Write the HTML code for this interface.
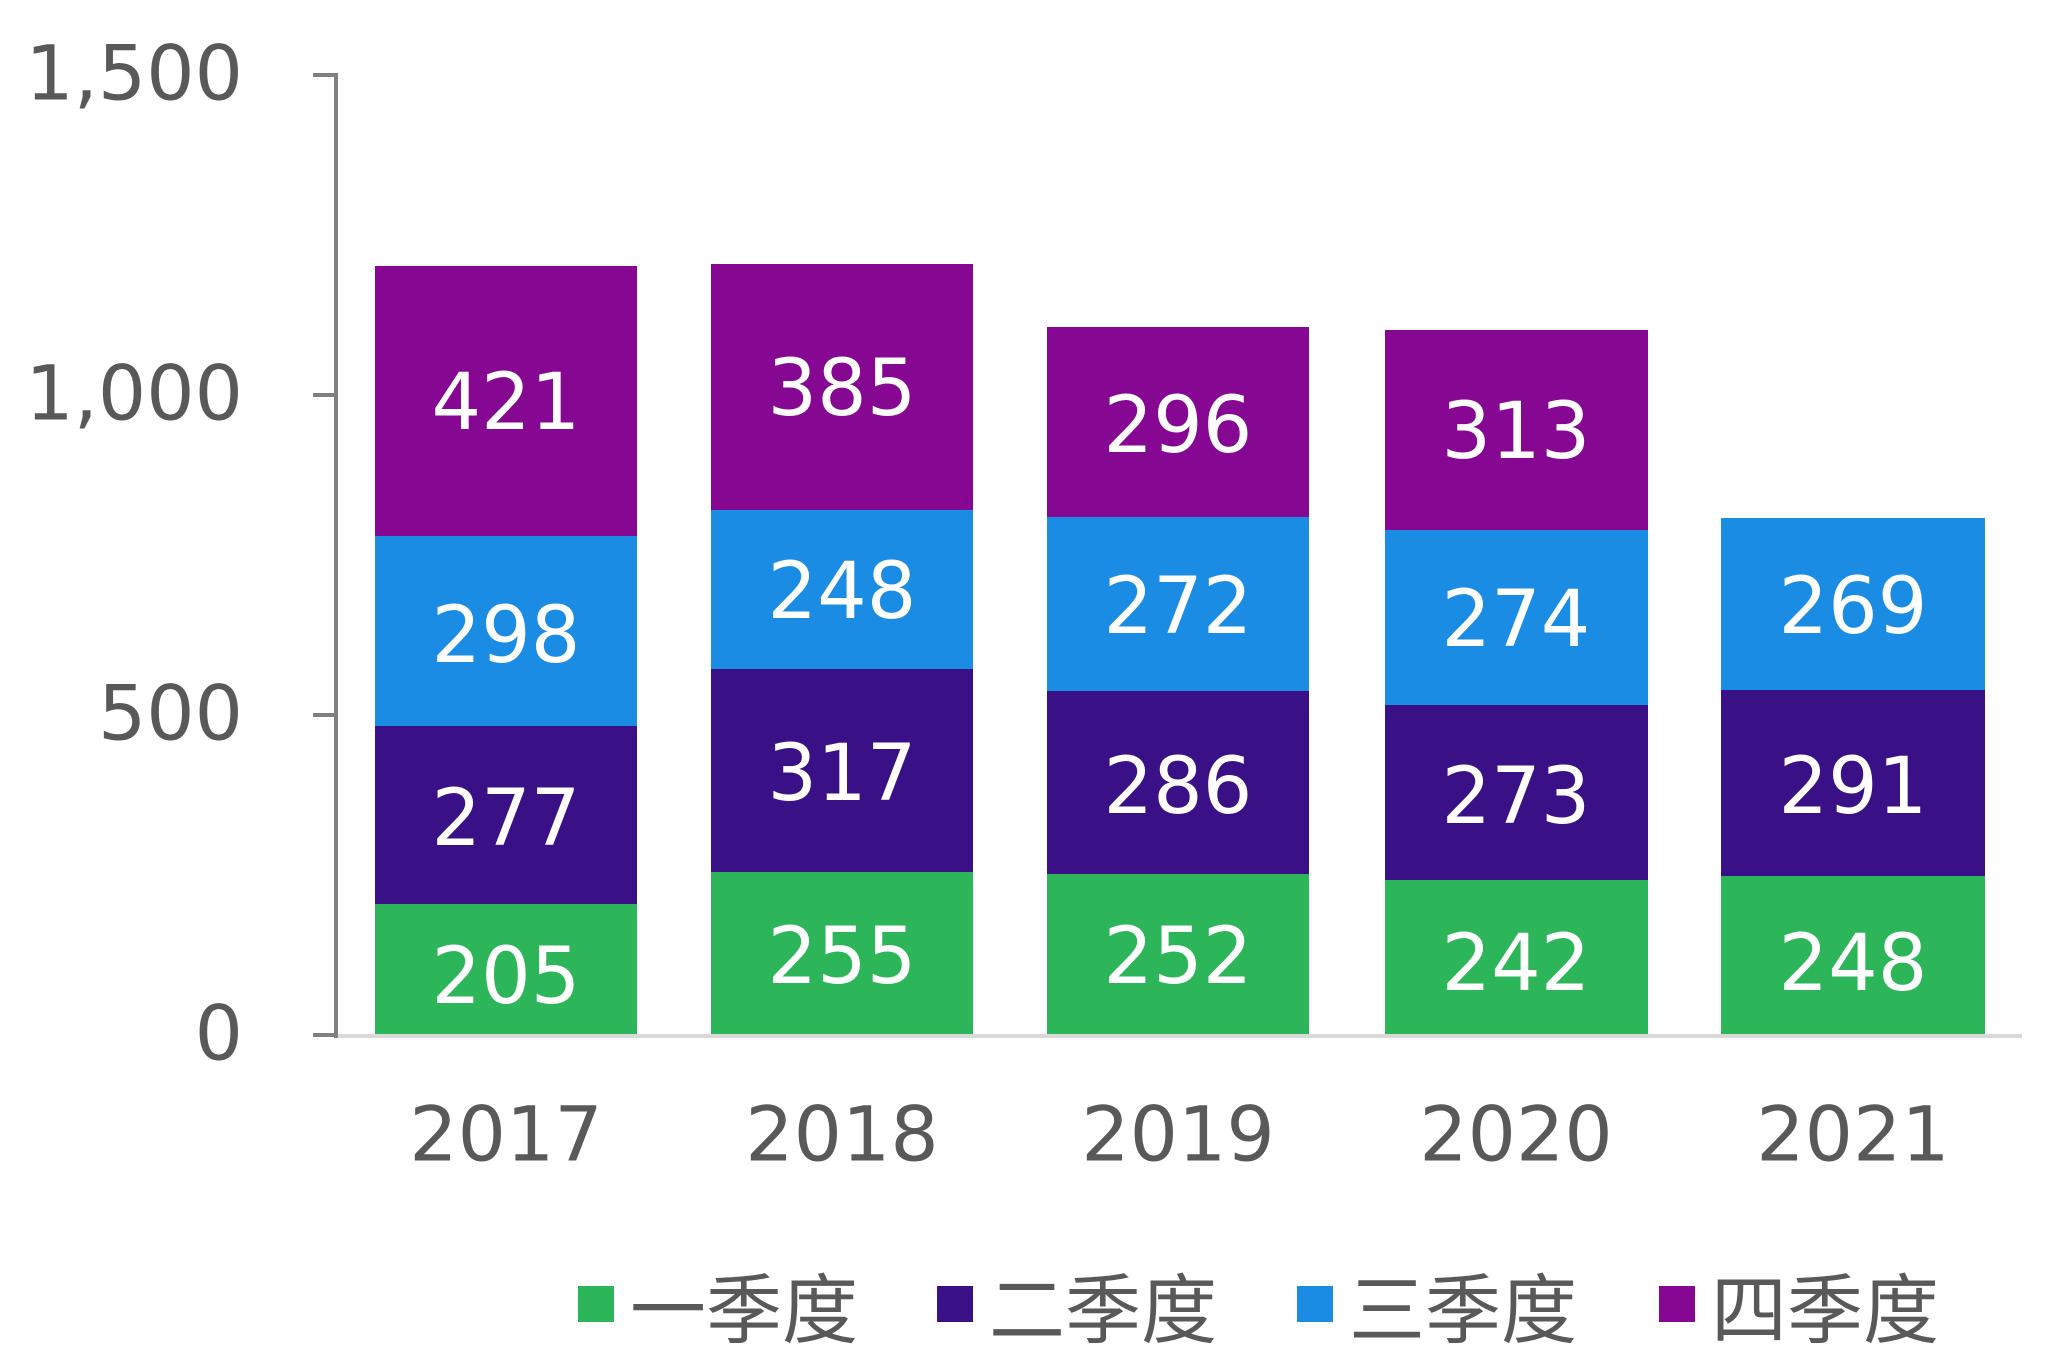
<!DOCTYPE html>
<html><head><meta charset="utf-8"><style>html,body{margin:0;padding:0;background:#fff}svg{display:block}</style></head><body>
<svg width="2048" height="1365" viewBox="0 0 2048 1365" xmlns="http://www.w3.org/2000/svg" font-family="'DejaVu Sans','Liberation Sans','Noto Sans CJK SC',sans-serif">
<g>
<rect x="375" y="904" width="262" height="131" fill="#2db55a"/>
<rect x="375" y="726" width="262" height="178" fill="#3a1086"/>
<rect x="375" y="536" width="262" height="190" fill="#1a8ce3"/>
<rect x="375" y="266" width="262" height="270" fill="#850792"/>
<rect x="711" y="872" width="262" height="163" fill="#2db55a"/>
<rect x="711" y="669" width="262" height="203" fill="#3a1086"/>
<rect x="711" y="510" width="262" height="159" fill="#1a8ce3"/>
<rect x="711" y="264" width="262" height="246" fill="#850792"/>
<rect x="1047" y="874" width="262" height="161" fill="#2db55a"/>
<rect x="1047" y="691" width="262" height="183" fill="#3a1086"/>
<rect x="1047" y="517" width="262" height="174" fill="#1a8ce3"/>
<rect x="1047" y="327" width="262" height="190" fill="#850792"/>
<rect x="1385" y="880" width="263" height="155" fill="#2db55a"/>
<rect x="1385" y="705" width="263" height="175" fill="#3a1086"/>
<rect x="1385" y="530" width="263" height="175" fill="#1a8ce3"/>
<rect x="1385" y="330" width="263" height="200" fill="#850792"/>
<rect x="1721" y="876" width="264" height="159" fill="#2db55a"/>
<rect x="1721" y="690" width="264" height="186" fill="#3a1086"/>
<rect x="1721" y="518" width="264" height="172" fill="#1a8ce3"/>
</g>
<line x1="336" y1="1036" x2="2022" y2="1036" stroke="#d9d9d9" stroke-width="4"/>
<line x1="336" y1="73" x2="336" y2="1038" stroke="#808080" stroke-width="4"/>
<g stroke="#808080" stroke-width="4">
<line x1="313" y1="75" x2="336" y2="75"/><line x1="313" y1="395" x2="336" y2="395"/><line x1="313" y1="715" x2="336" y2="715"/><line x1="313" y1="1035" x2="336" y2="1035"/>
</g>
<g fill="#595959" font-size="76" text-anchor="end" dominant-baseline="central">
<text x="243" y="73">1,500</text><text x="243" y="393">1,000</text><text x="243" y="713">500</text><text x="243" y="1033">0</text>
</g>
<g fill="#595959" font-size="76" text-anchor="middle" dominant-baseline="central">
<text x="506" y="1134">2017</text><text x="842" y="1134">2018</text><text x="1178" y="1134">2019</text><text x="1516" y="1134">2020</text><text x="1853" y="1134">2021</text>
</g>
<g fill="#fff" font-size="78" text-anchor="middle" dominant-baseline="central">
<text x="506" y="977">205</text><text x="506" y="819">277</text><text x="506" y="636">298</text><text x="506" y="403">421</text>
<text x="842" y="957">255</text><text x="842" y="774">317</text><text x="842" y="592">248</text><text x="842" y="389">385</text>
<text x="1178" y="957">252</text><text x="1178" y="787">286</text><text x="1178" y="607">272</text><text x="1178" y="426">296</text>
<text x="1516" y="964">242</text><text x="1516" y="797">273</text><text x="1516" y="620">274</text><text x="1516" y="432">313</text>
<text x="1853" y="964">248</text><text x="1853" y="787">291</text><text x="1853" y="607">269</text>
</g>
<rect x="578" y="1286" width="36" height="36" fill="#2db55a"/>
<rect x="937" y="1286" width="36" height="36" fill="#3a1086"/>
<rect x="1297" y="1286" width="36" height="36" fill="#1a8ce3"/>
<rect x="1659" y="1286" width="36" height="36" fill="#850792"/>
<g fill="#595959" font-size="76" dominant-baseline="central" font-family="'Noto Sans CJK SC',sans-serif">
<text x="630" y="1304">一季度</text><text x="989" y="1304">二季度</text><text x="1349" y="1304">三季度</text><text x="1711" y="1304">四季度</text>
</g>
</svg>
</body></html>
